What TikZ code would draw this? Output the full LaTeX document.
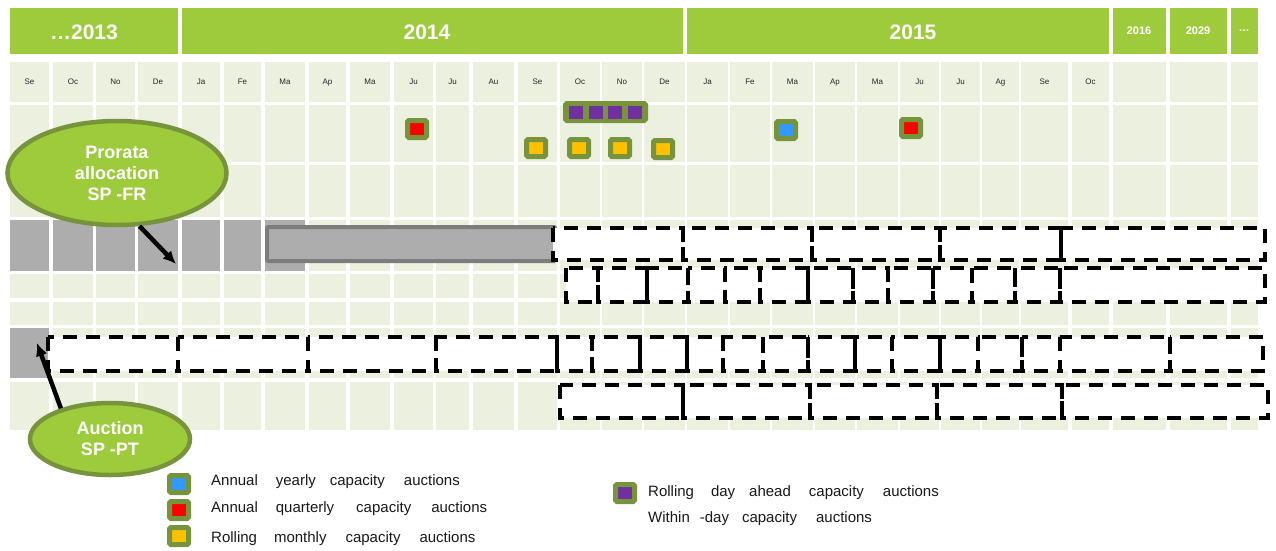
\documentclass[tikz,border=0pt]{standalone}
\usepackage{fontspec}
\setmainfont{Liberation Sans}
\usetikzlibrary{shapes.geometric,arrows.meta}
\definecolor{hdgreen}{RGB}{158,203,59}
\definecolor{cellgreen}{RGB}{235,241,222}
\definecolor{olive}{RGB}{119,147,60}
\definecolor{cellgray}{RGB}{173,173,173}
\definecolor{bargray}{RGB}{125,125,125}
\definecolor{mblue}{RGB}{51,153,255}
\definecolor{mred}{RGB}{255,0,0}
\definecolor{myellow}{RGB}{255,192,0}
\definecolor{mpurple}{RGB}{112,48,160}
\begin{document}
\begin{tikzpicture}[x=1pt,y=-1pt,
  month/.style={font=\fontsize{8}{10}\selectfont, text=black!85, inner sep=0pt, text height=6pt, text depth=1.5pt},
  yearlbl/.style={font=\fontsize{21}{24}\selectfont\bfseries, text=white, inner sep=0pt},
  smallyear/.style={font=\fontsize{11}{13}\selectfont\bfseries, text=white, inner sep=0pt},
  dbox/.style={draw=black, line width=4pt, dash pattern=on 14pt off 9pt},
  mk/.style={draw=olive, line width=5pt, rounded corners=1.5pt, minimum width=19pt, minimum height=17pt, inner sep=0pt},
  sq/.style={fill=mpurple, minimum width=14pt, minimum height=13pt, inner sep=0pt},
  bubble/.style={ellipse, draw=olive, line width=4.5pt, fill=hdgreen, text=white, align=center, inner sep=0pt, font=\fontsize{18}{21}\selectfont\bfseries},
  legtext/.style={anchor=west, font=\fontsize{15}{18}\selectfont, inner sep=0pt, text=black!90},
  arr/.style={-{Latex[length=13pt,width=12pt]}, line width=4.5pt, black}
]
\useasboundingbox (0,0) rectangle (1276,550);
\def\cols{10/49,53/93,96/135,138/178,182/220,224/261,265/305,309/346,350/390,394/433,436/469,473/514,518/557,560/600,602/642,644/685,687/728,730/770,772/813,815/855,857/898,900/939,941/980,982/1019,1021/1068,1072/1109,1113/1166,1170/1227,1231/1258}
% grid cells
\foreach \l/\r in \cols {
  \foreach \t/\b in {62/102,105/162,165/217,220/271,274/298,302/325,328/378,382/430} {
    \fill[cellgreen] (\l,\t) rectangle (\r,\b);
  }
}
% month labels
\foreach \l/\r/\m [count=\i] in {10/49/Se,53/93/Oc,96/135/No,138/178/De,182/220/Ja,224/261/Fe,265/305/Ma,309/346/Ap,350/390/Ma,394/433/Ju,436/469/Ju,473/514/Au,518/557/Se,560/600/Oc,602/642/No,644/685/De,687/728/Ja,730/770/Fe,772/813/Ma,815/855/Ap,857/898/Ma,900/939/Ju,941/980/Ju,982/1019/Ag,1021/1068/Se,1072/1109/Oc} {
  \node[month] (m\i) at ({(\l+\r)/2},82.5) {\m};
}
% headers
\fill[hdgreen] (10,8) rectangle (178,54);
\fill[hdgreen] (182,8) rectangle (683,54);
\fill[hdgreen] (687,8) rectangle (1109,54);
\fill[hdgreen] (1113,8) rectangle (1166,54);
\fill[hdgreen] (1170,8) rectangle (1227,54);
\fill[hdgreen] (1231,8) rectangle (1258,54);
\node[yearlbl] (y13) at (84,32) {…2013};
\node[yearlbl] (y14) at (427,32) {2014};
\node[yearlbl] (y15) at (913,32) {2015};
\node[smallyear] (y16) at (1139,31) {2016};
\node[smallyear] (y29) at (1198,31) {2029};
\node[smallyear] (ydots) at (1244,31) {…};
% gray cells
\foreach \l/\r in {10/49,53/93,96/135,138/178,182/220,224/261,265/305} {
  \fill[cellgray] (\l,220) rectangle (\r,271);
}
\fill[cellgray] (10,328) rectangle (49,378);
\draw[fill=cellgray, draw=bargray, line width=4pt, rounded corners=1pt] (267,227) rectangle (555,261);
% dashed boxes: white fill
\fill[white] (553,228) rectangle (1265,260);
\fill[white] (566,268) rectangle (1265,302);
\fill[white] (48,337) rectangle (1263,371);
\fill[white] (560,385) rectangle (1268,418);
\foreach \a/\b in {553/683,683/812,812/940,940/1061,1061/1265}
  \draw[dbox] (\a,228) rectangle (\b,260);
\foreach \a/\b in {566/598,598/647,647/688,688/725,725/760,760/808,808/853,853/888,888/933,933/972,972/1015,1015/1060,1060/1265}
  \draw[dbox] (\a,268) rectangle (\b,302);
\foreach \a/\b in {48/178,178/308,308/436,436/557,557/592,592/640,640/687,687/723,723/763,763/808,808/855,855/892,892/940,940/978,978/1022,1022/1060,1060/1170,1170/1263}
  \draw[dbox] (\a,337) rectangle (\b,371);
\foreach \a/\b in {560/683,683/810,810/937,937/1062,1062/1268}
  \draw[dbox] (\a,385) rectangle (\b,418);
% markers
\node[mk, fill=mred] (qa) at (417,129) {};
\node[mk, fill=mblue] (ya) at (786,130) {};
\node[mk, fill=mred] (qb) at (911,128) {};
\node[mk, fill=myellow] (ma) at (536,148) {};
\node[mk, fill=myellow] (mb) at (579,148) {};
\node[mk, fill=myellow] (mc) at (620,148) {};
\node[mk, fill=myellow] (md) at (663,149) {};
\node[mk, fill=olive, minimum width=80pt] (dgrp) at (605.5,112) {};
\node[sq] (d1) at (576,112) {};
\node[sq] (d2) at (595.5,112) {};
\node[sq] (d3) at (615,112) {};
\node[sq] (d4) at (635,112) {};
% bubbles and arrows
\node[bubble, minimum width=219pt, minimum height=104pt] (pr) at (117,173) {Prorata\\allocation\\SP -FR};
\node[bubble, minimum width=160pt, minimum height=72pt] (au) at (110,439) {Auction\\SP -PT};
\coordinate (t1) at (176,264);
\coordinate (t2) at (37,343);
\draw[arr] (pr.-67) -- (t1);
\draw[arr] (au.148) -- (t2);
% legend
\node[mk, fill=mblue] (lb) at (179,484) {};
\node[legtext] (lbt) at (211,482) {Annual\hspace{18pt}yearly\hspace{14pt}capacity\hspace{19pt}auctions};
\node[mk, fill=mred] (lr) at (179,510) {};
\node[legtext] (lrt) at (211,509) {Annual\hspace{18pt}quarterly\hspace{22pt}capacity\hspace{20pt}auctions};
\node[mk, fill=myellow] (ly) at (179,536) {};
\node[legtext] (lyt) at (211,539) {Rolling\hspace{17pt}monthly\hspace{19pt}capacity\hspace{19pt}auctions};
\node[mk, fill=mpurple] (lp) at (625,493) {};
\node[legtext] (lpt) at (648,493) {Rolling\hspace{17pt}day\hspace{14pt}ahead\hspace{18pt}capacity\hspace{19pt}auctions};
\node[legtext] (lwt) at (648,519) {Within\hspace{10pt}-day\hspace{13pt}capacity\hspace{19pt}auctions};
\end{tikzpicture}
\end{document}
